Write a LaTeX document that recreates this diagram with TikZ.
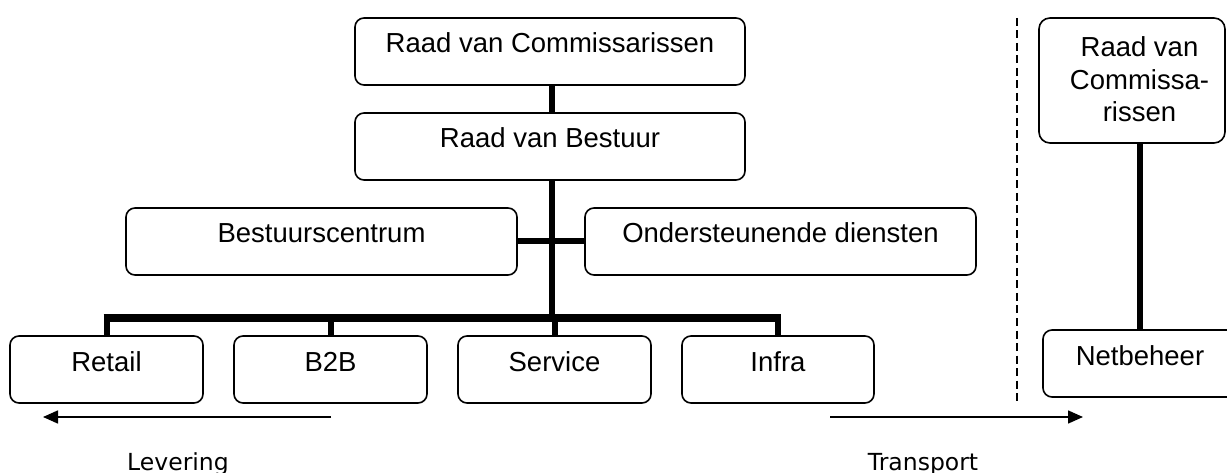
\documentclass[tikz,border=0pt]{standalone}
\usepackage{fontspec}
\setmainfont{Liberation Sans}
\newfontfamily\labelfont{DejaVu Sans}
\usetikzlibrary{arrows.meta}
\begin{document}
\begin{tikzpicture}[x=1pt,y=-1pt,
  orgbox/.style={draw, line width=1.6pt, rounded corners=9pt, inner sep=0pt,
    minimum height=67pt, text height=19pt, text depth=16pt,
    font=\fontsize{27.5}{32.5}\selectfont},
  link/.style={line width=6pt},
  barline/.style={line width=8pt},
  flow/.style={line width=1.6pt, -{Triangle[length=15pt,width=13pt]}},
  lbl/.style={font=\labelfont\fontsize{23.5}{28}\selectfont, anchor=base}]
\useasboundingbox (0,0) rectangle (1227,473);
\clip (0,0) rectangle (1227,473);
% left organisation
\node[orgbox, minimum width=390pt] (rvc) at (550,51.5) {Raad van Commissarissen};
\node[orgbox, minimum width=390pt] (rvb) at (550,146.5) {Raad van Bestuur};
\node[orgbox, minimum width=391pt] (bc) at (321.5,241.5) {Bestuurscentrum};
\node[orgbox, minimum width=391pt] (od) at (780.5,241.5) {Ondersteunende diensten};
\node[orgbox, minimum width=193pt] (retail) at (106.5,369.5) {Retail};
\node[orgbox, minimum width=193pt] (b2b) at (330.5,369.5) {B2B};
\node[orgbox, minimum width=193pt] (service) at (554.5,369.5) {Service};
\node[orgbox, minimum width=192pt] (infra) at (778,369.5) {Infra};
% connectors
\coordinate (bar) at (552,318);
\draw[link] (rvc.south -| bar) -- (rvb.north -| bar);
\draw[link] (rvb.south -| bar) -- (bar);
\draw[link] (bc.east) -- (od.west);
\draw[barline, line cap=butt] ([xshift=-3pt]bar -| retail.north) -- ([xshift=3pt]bar -| infra.north);
\draw[link] (bar -| retail.north) -- (retail.north);
\draw[link] (bar -| b2b.north) -- (b2b.north);
\draw[link] (bar -| service.north) -- (service.north);
\draw[link] (bar -| infra.north) -- (infra.north);
% separator
\coordinate (sepT) at (1017,18);
\coordinate (sepB) at (1017,403);
\draw[line width=1.5pt, dash pattern=on 8pt off 4.5pt] (sepT) -- (sepB);
% right organisation
\node[draw, line width=1.6pt, rounded corners=11pt, minimum width=186pt, minimum height=125pt] (rvc2) at (1132,80.5) {};
\node[align=center, font=\fontsize{27.5}{32.5}\selectfont, inner sep=0pt, anchor=base] (rvc2t) at (1139.5,122) {Raad van\\Commissa-\\rissen};
\node[orgbox, minimum width=194pt] (net) at (1140,363.5) {Netbeheer};
\draw[link] (rvc2.south -| net.north) -- (net.north);
% flows
\coordinate (levS) at (331,417);
\coordinate (levE) at (43,417);
\coordinate (trS) at (830,417);
\coordinate (trE) at (1083,417);
\draw[flow] (levS) -- (levE);
\draw[flow] (trS) -- (trE);
\node[lbl] (lev) at (178,470) {Levering};
\node[lbl] (tr) at (923,470) {Transport};
\end{tikzpicture}
\end{document}
